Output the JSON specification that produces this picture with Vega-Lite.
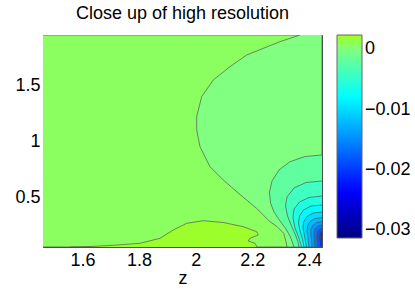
{
  "$schema": "https://vega.github.io/schema/vega-lite/v6.json",
  "autosize": "none",
  "width": 279,
  "height": 212,
  "padding": {"left": 43, "top": 35, "right": 93, "bottom": 42},
  "title": {"text": "Close up of high resolution", "fontSize": 18, "fontWeight": "normal", "font": "Liberation Sans", "color": "#000", "anchor": "middle", "offset": 12},
  "data": {"values": [
    {"r": "bg", "v": 0.0008, "i": 0, "z": 1.4605, "y": 1.958},
    {"r": "bg", "v": 0.0008, "i": 1, "z": 2.446, "y": 1.958},
    {"r": "bg", "v": 0.0008, "i": 2, "z": 2.446, "y": 0.0535},
    {"r": "bg", "v": 0.0008, "i": 3, "z": 1.4605, "y": 0.0535},
    {"r": "blob", "v": 0.0021, "i": 0, "z": 1.5558, "y": 0.0535},
    {"r": "blob", "v": 0.0021, "i": 1, "z": 1.6265, "y": 0.058},
    {"r": "blob", "v": 0.0021, "i": 2, "z": 1.6971, "y": 0.0669},
    {"r": "blob", "v": 0.0021, "i": 3, "z": 1.8031, "y": 0.0867},
    {"r": "blob", "v": 0.0021, "i": 4, "z": 1.8738, "y": 0.1316},
    {"r": "blob", "v": 0.0021, "i": 5, "z": 1.9207, "y": 0.2062},
    {"r": "blob", "v": 0.0021, "i": 6, "z": 1.9681, "y": 0.2664},
    {"r": "blob", "v": 0.0021, "i": 7, "z": 2.0267, "y": 0.2898},
    {"r": "blob", "v": 0.0021, "i": 8, "z": 2.0973, "y": 0.2736},
    {"r": "blob", "v": 0.0021, "i": 9, "z": 2.168, "y": 0.2358},
    {"r": "blob", "v": 0.0021, "i": 10, "z": 2.2153, "y": 0.1909},
    {"r": "blob", "v": 0.0021, "i": 11, "z": 2.221, "y": 0.1613},
    {"r": "blob", "v": 0.0021, "i": 12, "z": 2.1917, "y": 0.1316},
    {"r": "blob", "v": 0.0021, "i": 13, "z": 2.1856, "y": 0.1074},
    {"r": "blob", "v": 0.0021, "i": 14, "z": 2.2093, "y": 0.0867},
    {"r": "blob", "v": 0.0021, "i": 15, "z": 2.2164, "y": 0.0535},
    {"r": "c1", "v": 0.0, "i": 0, "z": 2.3683, "y": 1.958},
    {"r": "c1", "v": 0.0, "i": 1, "z": 2.2976, "y": 1.898},
    {"r": "c1", "v": 0.0, "i": 2, "z": 2.18, "y": 1.7785},
    {"r": "c1", "v": 0.0, "i": 3, "z": 2.121, "y": 1.6734},
    {"r": "c1", "v": 0.0, "i": 4, "z": 2.062, "y": 1.5539},
    {"r": "c1", "v": 0.0, "i": 5, "z": 2.021, "y": 1.4039},
    {"r": "c1", "v": 0.0, "i": 6, "z": 2.0034, "y": 1.2242},
    {"r": "c1", "v": 0.0, "i": 7, "z": 2.0034, "y": 1.1047},
    {"r": "c1", "v": 0.0, "i": 8, "z": 2.015, "y": 0.9546},
    {"r": "c1", "v": 0.0, "i": 9, "z": 2.0503, "y": 0.7749},
    {"r": "c1", "v": 0.0, "i": 10, "z": 2.0973, "y": 0.6554},
    {"r": "c1", "v": 0.0, "i": 11, "z": 2.1563, "y": 0.5252},
    {"r": "c1", "v": 0.0, "i": 12, "z": 2.2153, "y": 0.3994},
    {"r": "c1", "v": 0.0, "i": 13, "z": 2.2623, "y": 0.2808},
    {"r": "c1", "v": 0.0, "i": 14, "z": 2.287, "y": 0.2376},
    {"r": "c1", "v": 0.0, "i": 15, "z": 2.3107, "y": 0.1766},
    {"r": "c1", "v": 0.0, "i": 16, "z": 2.3188, "y": 0.1011},
    {"r": "c1", "v": 0.0, "i": 17, "z": 2.3223, "y": 0.0535},
    {"r": "c1", "v": 0.0, "i": 18, "z": 2.446, "y": 0.0535},
    {"r": "c1", "v": 0.0, "i": 19, "z": 2.446, "y": 1.958},
    {"r": "c2", "v": -0.002, "i": 0, "z": 2.446, "y": 0.8801},
    {"r": "c2", "v": -0.002, "i": 1, "z": 2.3859, "y": 0.8666},
    {"r": "c2", "v": -0.002, "i": 2, "z": 2.3329, "y": 0.8199},
    {"r": "c2", "v": -0.002, "i": 3, "z": 2.2941, "y": 0.7453},
    {"r": "c2", "v": -0.002, "i": 4, "z": 2.2694, "y": 0.6465},
    {"r": "c2", "v": -0.002, "i": 5, "z": 2.2605, "y": 0.5476},
    {"r": "c2", "v": -0.002, "i": 6, "z": 2.2641, "y": 0.4488},
    {"r": "c2", "v": -0.002, "i": 7, "z": 2.2764, "y": 0.3679},
    {"r": "c2", "v": -0.002, "i": 8, "z": 2.2976, "y": 0.2871},
    {"r": "c2", "v": -0.002, "i": 9, "z": 2.3188, "y": 0.2152},
    {"r": "c2", "v": -0.002, "i": 10, "z": 2.3347, "y": 0.1433},
    {"r": "c2", "v": -0.002, "i": 11, "z": 2.3435, "y": 0.0804},
    {"r": "c2", "v": -0.002, "i": 12, "z": 2.3471, "y": 0.0535},
    {"r": "c2", "v": -0.002, "i": 13, "z": 2.446, "y": 0.0535},
    {"r": "c3", "v": -0.004, "i": 0, "z": 2.446, "y": 0.6465},
    {"r": "c3", "v": -0.004, "i": 1, "z": 2.3894, "y": 0.633},
    {"r": "c3", "v": -0.004, "i": 2, "z": 2.3471, "y": 0.5836},
    {"r": "c3", "v": -0.004, "i": 3, "z": 2.3223, "y": 0.5027},
    {"r": "c3", "v": -0.004, "i": 4, "z": 2.317, "y": 0.4218},
    {"r": "c3", "v": -0.004, "i": 5, "z": 2.3241, "y": 0.332},
    {"r": "c3", "v": -0.004, "i": 6, "z": 2.3382, "y": 0.2421},
    {"r": "c3", "v": -0.004, "i": 7, "z": 2.3523, "y": 0.1613},
    {"r": "c3", "v": -0.004, "i": 8, "z": 2.3612, "y": 0.0984},
    {"r": "c3", "v": -0.004, "i": 9, "z": 2.3647, "y": 0.0535},
    {"r": "c3", "v": -0.004, "i": 10, "z": 2.446, "y": 0.0535},
    {"r": "c4", "v": -0.006, "i": 0, "z": 2.446, "y": 0.5117},
    {"r": "c4", "v": -0.006, "i": 1, "z": 2.4, "y": 0.4982},
    {"r": "c4", "v": -0.006, "i": 2, "z": 2.3665, "y": 0.4578},
    {"r": "c4", "v": -0.006, "i": 3, "z": 2.3471, "y": 0.3949},
    {"r": "c4", "v": -0.006, "i": 4, "z": 2.3435, "y": 0.314},
    {"r": "c4", "v": -0.006, "i": 5, "z": 2.3506, "y": 0.2242},
    {"r": "c4", "v": -0.006, "i": 6, "z": 2.3647, "y": 0.1343},
    {"r": "c4", "v": -0.006, "i": 7, "z": 2.3736, "y": 0.0535},
    {"r": "c4", "v": -0.006, "i": 8, "z": 2.446, "y": 0.0535},
    {"r": "c5", "v": -0.008, "i": 0, "z": 2.446, "y": 0.4308},
    {"r": "c5", "v": -0.008, "i": 1, "z": 2.4071, "y": 0.4218},
    {"r": "c5", "v": -0.008, "i": 2, "z": 2.3806, "y": 0.3859},
    {"r": "c5", "v": -0.008, "i": 3, "z": 2.3665, "y": 0.332},
    {"r": "c5", "v": -0.008, "i": 4, "z": 2.3629, "y": 0.2691},
    {"r": "c5", "v": -0.008, "i": 5, "z": 2.3683, "y": 0.1972},
    {"r": "c5", "v": -0.008, "i": 6, "z": 2.3771, "y": 0.1253},
    {"r": "c5", "v": -0.008, "i": 7, "z": 2.3824, "y": 0.0535},
    {"r": "c5", "v": -0.008, "i": 8, "z": 2.446, "y": 0.0535},
    {"r": "c6", "v": -0.01, "i": 0, "z": 2.446, "y": 0.3679},
    {"r": "c6", "v": -0.01, "i": 1, "z": 2.4142, "y": 0.3589},
    {"r": "c6", "v": -0.01, "i": 2, "z": 2.393, "y": 0.3275},
    {"r": "c6", "v": -0.01, "i": 3, "z": 2.3806, "y": 0.2781},
    {"r": "c6", "v": -0.01, "i": 4, "z": 2.3788, "y": 0.2242},
    {"r": "c6", "v": -0.01, "i": 5, "z": 2.3841, "y": 0.1523},
    {"r": "c6", "v": -0.01, "i": 6, "z": 2.3912, "y": 0.0535},
    {"r": "c6", "v": -0.01, "i": 7, "z": 2.446, "y": 0.0535},
    {"r": "c7", "v": -0.012, "i": 0, "z": 2.446, "y": 0.3185},
    {"r": "c7", "v": -0.012, "i": 1, "z": 2.4212, "y": 0.3095},
    {"r": "c7", "v": -0.012, "i": 2, "z": 2.4036, "y": 0.2826},
    {"r": "c7", "v": -0.012, "i": 3, "z": 2.3947, "y": 0.2421},
    {"r": "c7", "v": -0.012, "i": 4, "z": 2.393, "y": 0.1972},
    {"r": "c7", "v": -0.012, "i": 5, "z": 2.3965, "y": 0.1343},
    {"r": "c7", "v": -0.012, "i": 6, "z": 2.4, "y": 0.0535},
    {"r": "c7", "v": -0.012, "i": 7, "z": 2.446, "y": 0.0535},
    {"r": "c8", "v": -0.014, "i": 0, "z": 2.446, "y": 0.2826},
    {"r": "c8", "v": -0.014, "i": 1, "z": 2.4265, "y": 0.2736},
    {"r": "c8", "v": -0.014, "i": 2, "z": 2.4142, "y": 0.2511},
    {"r": "c8", "v": -0.014, "i": 3, "z": 2.4071, "y": 0.2152},
    {"r": "c8", "v": -0.014, "i": 4, "z": 2.4064, "y": 0.1703},
    {"r": "c8", "v": -0.014, "i": 5, "z": 2.4089, "y": 0.1164},
    {"r": "c8", "v": -0.014, "i": 6, "z": 2.4106, "y": 0.0535},
    {"r": "c8", "v": -0.014, "i": 7, "z": 2.446, "y": 0.0535},
    {"r": "c9", "v": -0.016, "i": 0, "z": 2.446, "y": 0.2511},
    {"r": "c9", "v": -0.016, "i": 1, "z": 2.4318, "y": 0.2421},
    {"r": "c9", "v": -0.016, "i": 2, "z": 2.4212, "y": 0.2197},
    {"r": "c9", "v": -0.016, "i": 3, "z": 2.4177, "y": 0.1882},
    {"r": "c9", "v": -0.016, "i": 4, "z": 2.4177, "y": 0.1433},
    {"r": "c9", "v": -0.016, "i": 5, "z": 2.4195, "y": 0.0984},
    {"r": "c9", "v": -0.016, "i": 6, "z": 2.4212, "y": 0.0535},
    {"r": "c9", "v": -0.016, "i": 7, "z": 2.446, "y": 0.0535},
    {"r": "c10", "v": -0.018, "i": 0, "z": 2.446, "y": 0.2242},
    {"r": "c10", "v": -0.018, "i": 1, "z": 2.4371, "y": 0.2152},
    {"r": "c10", "v": -0.018, "i": 2, "z": 2.4293, "y": 0.1927},
    {"r": "c10", "v": -0.018, "i": 3, "z": 2.4265, "y": 0.1613},
    {"r": "c10", "v": -0.018, "i": 4, "z": 2.4276, "y": 0.1164},
    {"r": "c10", "v": -0.018, "i": 5, "z": 2.4301, "y": 0.0535},
    {"r": "c10", "v": -0.018, "i": 6, "z": 2.446, "y": 0.0535},
    {"r": "c11", "v": -0.02, "i": 0, "z": 2.446, "y": 0.2017},
    {"r": "c11", "v": -0.02, "i": 1, "z": 2.44, "y": 0.1927},
    {"r": "c11", "v": -0.02, "i": 2, "z": 2.4364, "y": 0.1703},
    {"r": "c11", "v": -0.02, "i": 3, "z": 2.4354, "y": 0.1343},
    {"r": "c11", "v": -0.02, "i": 4, "z": 2.4371, "y": 0.0894},
    {"r": "c11", "v": -0.02, "i": 5, "z": 2.4389, "y": 0.0535},
    {"r": "c11", "v": -0.02, "i": 6, "z": 2.446, "y": 0.0535},
    {"r": "c12", "v": -0.023, "i": 0, "z": 2.446, "y": 0.1792},
    {"r": "c12", "v": -0.023, "i": 1, "z": 2.4417, "y": 0.1658},
    {"r": "c12", "v": -0.023, "i": 2, "z": 2.4407, "y": 0.1433},
    {"r": "c12", "v": -0.023, "i": 3, "z": 2.4417, "y": 0.1164},
    {"r": "c12", "v": -0.023, "i": 4, "z": 2.446, "y": 0.0984},
    {"r": "c13", "v": -0.027, "i": 0, "z": 2.446, "y": 0.1613},
    {"r": "c13", "v": -0.027, "i": 1, "z": 2.4435, "y": 0.1478},
    {"r": "c13", "v": -0.027, "i": 2, "z": 2.4435, "y": 0.1298},
    {"r": "c13", "v": -0.027, "i": 3, "z": 2.446, "y": 0.1164}
  ]},
  "mark": {"type": "line", "clip": true, "stroke": "#555555", "strokeWidth": 0.7, "interpolate": "linear"},
  "encoding": {
    "x": {"field": "z", "type": "quantitative", "scale": {"domain": [1.4605, 2.446], "nice": false, "zero": false},
      "axis": {"title": "z", "values": [1.6, 1.8, 2, 2.2, 2.4], "format": "~g", "titlePadding": 0}},
    "y": {"field": "y", "type": "quantitative", "scale": {"domain": [0.0535, 1.958], "nice": false, "zero": false},
      "axis": {"title": null, "values": [0.5, 1, 1.5], "format": "~g", "labelPadding": 3}},
    "fill": {"field": "v", "type": "quantitative",
      "scale": {"domain": [-0.0313, -0.0235, -0.00783, 0, 0.0024], "range": ["#000080", "#0000ff", "#00ffff", "#80ff80", "#a0ff20"], "interpolate": "rgb"},
      "legend": {"orient": "none", "legendX": 294, "legendY": 0, "direction": "vertical", "title": null, "gradientLength": 203, "gradientThickness": 25, "values": [-0.03, -0.02, -0.01, 0], "format": "~g", "labelFontSize": 18, "labelFont": "Liberation Sans", "labelColor": "#000", "labelOffset": 3, "gradientStrokeColor": "#666", "gradientStrokeWidth": 1}},
    "detail": {"field": "r"},
    "order": {"field": "i", "type": "quantitative"}
  },
  "config": {
    "view": {"stroke": "#4d4d4d", "strokeWidth": 1},
    "axis": {"labelFont": "Liberation Sans", "labelFontSize": 18, "labelColor": "#000", "titleFont": "Liberation Sans", "titleFontSize": 18, "titleFontWeight": "normal", "titleColor": "#000", "ticks": false, "grid": false, "domainColor": "#4d4d4d", "labelPadding": 4}
  }
}
